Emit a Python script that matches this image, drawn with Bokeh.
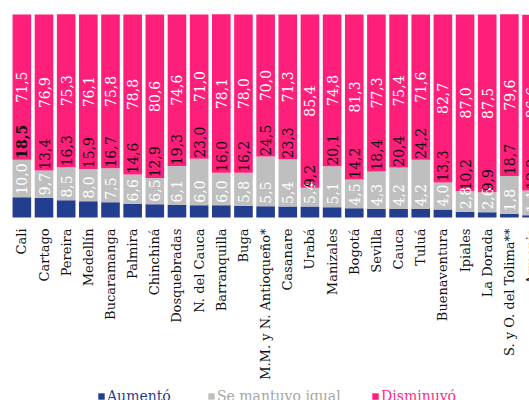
from math import pi
from bokeh.plotting import figure
from bokeh.models import ColumnDataSource, Range1d, Legend, LegendItem
from bokeh.core.properties import value
from bokeh.embed import file_html
from bokeh.resources import INLINE

categories = ["Cali", "Cartago", "Pereira", "Medellín", "Bucaramanga", "Palmira",
              "Chinchiná", "Dosquebradas", "N. del Cauca", "Barranquilla", "Buga",
              "M.M. y N. Antioqueño*", "Casanare", "Urabá", "Manizales", "Bogotá",
              "Sevilla", "Cauca", "Tuluá", "Buenaventura", "Ipiales", "La Dorada",
              "S. y O. del Tolima**", "Armenia"]
aumento = [10.0, 9.7, 8.5, 8.0, 7.5, 6.6, 6.5, 6.1, 6.0, 6.0, 5.8, 5.5, 5.4, 5.4,
           5.1, 4.5, 4.3, 4.2, 4.2, 4.0, 2.8, 2.6, 1.8, 1.1]
igual = [18.5, 13.4, 16.3, 15.9, 16.7, 14.6, 12.9, 19.3, 23.0, 16.0, 16.2, 24.5,
         23.3, 9.2, 20.1, 14.2, 18.4, 20.4, 24.2, 13.3, 10.2, 9.9, 18.7, 12.2]
disminuyo = [71.5, 76.9, 75.3, 76.1, 75.8, 78.8, 80.6, 74.6, 71.0, 78.1, 78.0, 70.0,
             71.3, 85.4, 74.8, 81.3, 77.3, 75.4, 71.6, 82.7, 87.0, 87.5, 79.6, 86.6]
series = ["Aumentó", "Se mantuvo igual", "Disminuyó"]

NAVY = "#233d8f"
GRAY = "#bfbfbf"
PINK = "#fe1f7a"
FONT = "DejaVu Serif"

n = len(categories)
xs = list(range(n))
fmt = lambda v: f"{v:.1f}".replace(".", ",")

src = ColumnDataSource(dict(
    x=xs, a=aumento, g=igual, d=disminuyo,
    a_top=[a + 1.3 for a in aumento],
    g_top=[a + g + 0.4 for a, g in zip(aumento, igual)],
    d_mid=[a + g + d / 2 for a, g, d in zip(aumento, igual, disminuyo)],
    a_txt=[fmt(v) for v in aumento],
    g_txt=[fmt(v) for v in igual],
    d_txt=[fmt(v) for v in disminuyo],
    g_style=["bold"] + ["normal"] * (n - 1),
    cat=categories,
))

# frame covers the whole canvas: 2.03 px per percentage point, zero at 217 px from top
p = figure(width=529, height=400, output_backend="svg", toolbar_location=None,
           x_range=Range1d(-0.9635, 22.908), y_range=Range1d(-90.148, 106.897),
           min_border=0, x_axis_location=None, y_axis_location=None)
p.outline_line_color = None
p.background_fill_color = "white"
p.border_fill_color = "white"
p.xgrid.visible = False
p.ygrid.visible = False

rs = p.vbar_stack(["a", "g", "d"], x="x", width=0.84, color=[NAVY, GRAY, PINK],
                  line_color=None, source=src)

common = dict(source=src, angle=pi / 2, text_font=value(FONT), text_font_size="14px",
              text_baseline="middle")
p.text(x="x", y="a_top", text="a_txt", text_align="left", text_color="white", **common)
p.text(x="x", y="g_top", text="g_txt", text_align="left", text_color="#111111",
       text_font_style="g_style", **common)
p.text(x="x", y="d_mid", text="d_txt", text_align="center", text_color="white", **common)

# category labels under the bars
p.text(x="x", y=-5.4, text="cat", source=src, angle=pi / 2, text_align="right",
       text_baseline="middle", text_font=value(FONT), text_font_size="13px",
       text_color="#111111")

leg_x = [97, 207, 371]
leg_colors = [NAVY, "#a6a6a6", "#ff2a80"]
for r, name, lx, lc in zip(rs, series, leg_x, leg_colors):
    lg = Legend(items=[LegendItem(label=name, renderers=[r])], location=(lx, -4),
                orientation="horizontal", padding=0, margin=0, spacing=0,
                glyph_width=8, glyph_height=8, label_height=8, label_standoff=2,
                border_line_color=None, background_fill_alpha=0,
                label_text_font=FONT, label_text_font_size="14px",
                label_text_color=lc)
    p.add_layout(lg, "center")

open("out.html", "w").write(file_html(p, INLINE))
